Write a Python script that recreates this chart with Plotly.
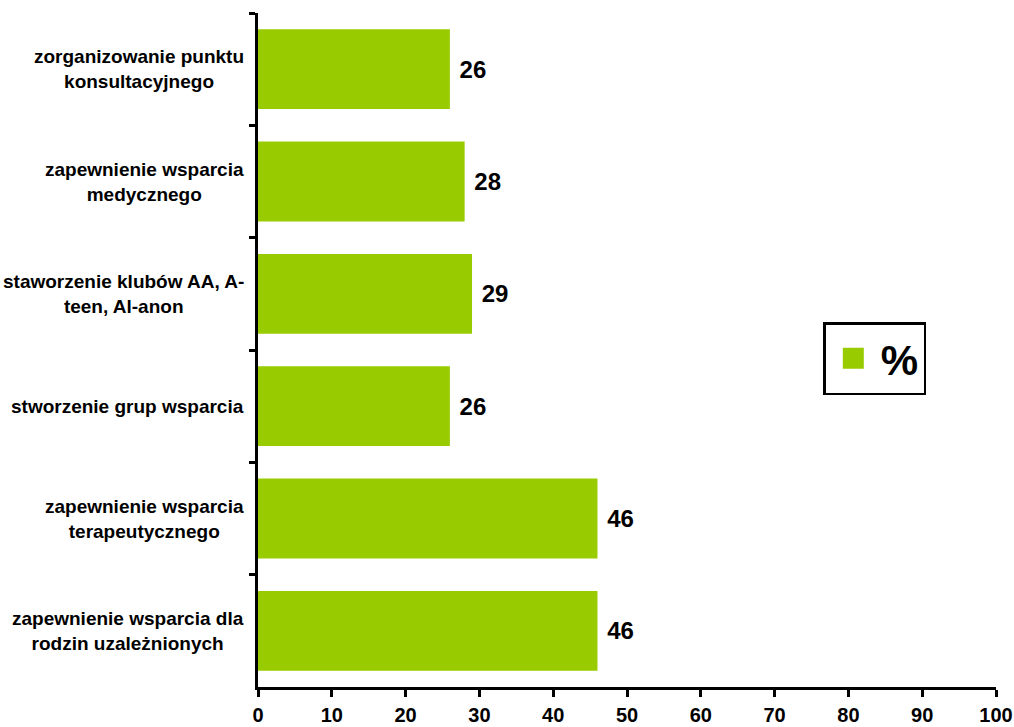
import plotly.graph_objects as go

categories = [
    "zorganizowanie punktu<br>konsultacyjnego",
    "zapewnienie wsparcia<br>medycznego",
    "staworzenie klubów AA, A-<br>teen, Al-anon",
    "stworzenie grup wsparcia",
    "zapewnienie wsparcia<br>terapeutycznego",
    "zapewnienie wsparcia dla<br>rodzin uzależnionych",
]
values = [26, 28, 29, 26, 46, 46]
series_name = "%"
x_ticks = [0, 10, 20, 30, 40, 50, 60, 70, 80, 90, 100]

GREEN = "#99CC00"
FONT = "Liberation Sans, Arial, sans-serif"

fig = go.Figure()
fig.add_trace(go.Bar(
    y=categories,
    x=values,
    orientation="h",
    name=series_name,
    showlegend=False,
    marker=dict(color=GREEN, line=dict(width=0)),
    width=0.71,
    texttemplate=" %{x}",
    textposition="outside",
    textfont=dict(family=FONT, size=24, color="black", weight="bold"),
    cliponaxis=False,
    hoverinfo="x+y",
))
# legend entry (same series, larger square symbol)
fig.add_trace(go.Scatter(
    x=[None], y=[None], mode="markers", name=series_name,
    marker=dict(symbol="square", size=16, color=GREEN,
                line=dict(color=GREEN, width=5)),
    showlegend=True, hoverinfo="skip",
))

annotations = []
for c in categories:
    annotations.append(dict(
        x=-0.016, xref="paper", y=c, yref="y",
        text=c, showarrow=False, xanchor="right", yanchor="middle",
        align="center",
        font=dict(family=FONT, size=19, color="black", weight="bold"),
    ))

fig.update_layout(
    width=1014, height=727,
    margin=dict(l=258, r=18, t=13, b=40, autoexpand=False),
    paper_bgcolor="white", plot_bgcolor="white",
    showlegend=True,
    legend=dict(
        x=0.766, y=0.5415, xanchor="left", yanchor="top",
        bordercolor="black", borderwidth=2.5, bgcolor="white",
        font=dict(family=FONT, size=42, color="black", weight="bold"),
        itemwidth=45,
    ),
    annotations=annotations,
    xaxis=dict(
        range=[0, 100], tickvals=x_ticks, ticktext=[str(t) for t in x_ticks],
        showgrid=False, zeroline=False,
        showline=True, linecolor="black", linewidth=2.5,
        ticks="outside", ticklen=7, tickwidth=2.5, tickcolor="black",
        tickfont=dict(family=FONT, size=20, color="black", weight="bold"),
        ticklabelstandoff=1,
        automargin=False,
        fixedrange=True,
    ),
    yaxis=dict(
        categoryorder="array", categoryarray=categories,
        autorange="reversed",
        showgrid=False, zeroline=False,
        showline=True, linecolor="black", linewidth=2.5,
        ticks="outside", ticklen=6, tickwidth=2.5, tickcolor="black",
        tickson="boundaries",
        showticklabels=False,
        automargin=False,
        fixedrange=True,
    ),
)

fig.write_html("out.html", config={"displayModeBar": False},
               post_script="document.body.style.margin='0';")
